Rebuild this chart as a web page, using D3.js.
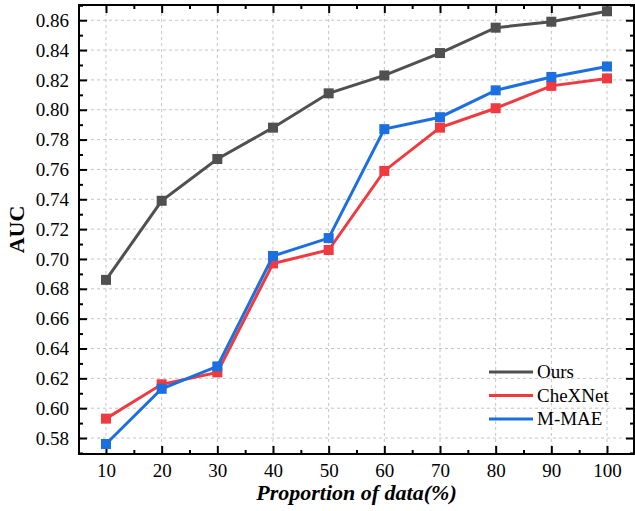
<!DOCTYPE html>
<html>
<head>
<meta charset="utf-8">
<script src="https://cdn.jsdelivr.net/npm/d3@7"></script>
<style>
  body { margin: 0; background: #fff; }
  text { font-family: "Liberation Serif", "Times New Roman", serif; }
</style>
</head>
<body>
<script>
// data
let proportions = [10, 20, 30, 40, 50, 60, 70, 80, 90, 100];
let ours = [0.686, 0.739, 0.767, 0.788, 0.811, 0.823, 0.838, 0.855, 0.859, 0.866];
let chexnet = [0.593, 0.616, 0.624, 0.697, 0.706, 0.759, 0.788, 0.801, 0.816, 0.821];
let mmae = [0.576, 0.613, 0.628, 0.702, 0.714, 0.787, 0.795, 0.813, 0.822, 0.829];
let seriesNames = ["Ours", "CheXNet", "M-MAE"];
let yTicks = [0.58, 0.60, 0.62, 0.64, 0.66, 0.68, 0.70, 0.72, 0.74, 0.76, 0.78, 0.80, 0.82, 0.84, 0.86];

let width = 635, height = 511;
let margin = { top: 5, right: 1, bottom: 57, left: 79 };
let serif = "Liberation Serif, Times New Roman, serif";

let svg = d3.select("body").append("svg")
    .attr("width", width)
    .attr("height", height);

let x = d3.scaleLinear().domain([5.15, 104.85]).range([margin.left, width - margin.right]);
let y = d3.scaleLinear().domain([0.5693, 0.8702]).range([height - margin.bottom, margin.top]);

let color = d3.scaleOrdinal(seriesNames, ["#505050", "#ef3b40", "#1c6fe0"]);
let series = [
  { name: "Ours", values: ours },
  { name: "CheXNet", values: chexnet },
  { name: "M-MAE", values: mmae }
];

let x0 = margin.left, x1 = width - margin.right, y0 = height - margin.bottom, y1 = margin.top;

// grid
let grid = svg.append("g").attr("stroke", "#c4c4c4").attr("stroke-dasharray", "3,3").attr("stroke-width", 1);
grid.selectAll(".vg").data(proportions).enter().append("line")
    .attr("x1", d => x(d)).attr("x2", d => x(d)).attr("y1", y0).attr("y2", y1);
grid.selectAll(".hg").data(yTicks).enter().append("line")
    .attr("x1", x0).attr("x2", x1).attr("y1", d => y(d)).attr("y2", d => y(d));

// axes with inward ticks
let minorX = d3.range(15, 101, 10);
let minorY = d3.range(0.57, 0.871, 0.02);

function clean(g) {
  g.select(".domain").remove();
  g.attr("font-family", serif).attr("font-size", 19);
}

svg.append("g").attr("transform", "translate(0," + y0 + ")")
    .call(d3.axisBottom(x).tickValues(proportions).tickSizeInner(-8).tickSizeOuter(0).tickPadding(10))
    .call(clean);
svg.append("g").attr("transform", "translate(0," + y0 + ")")
    .call(d3.axisBottom(x).tickValues(minorX).tickSizeInner(-4).tickSizeOuter(0).tickFormat(""))
    .call(clean);
svg.append("g").attr("transform", "translate(0," + y1 + ")")
    .call(d3.axisTop(x).tickValues(proportions).tickSizeInner(-8).tickSizeOuter(0).tickFormat(""))
    .call(clean);
svg.append("g").attr("transform", "translate(0," + y1 + ")")
    .call(d3.axisTop(x).tickValues(minorX).tickSizeInner(-4).tickSizeOuter(0).tickFormat(""))
    .call(clean);

svg.append("g").attr("transform", "translate(" + x0 + ",0)")
    .call(d3.axisLeft(y).tickValues(yTicks).tickSizeInner(-8).tickSizeOuter(0).tickPadding(10).tickFormat(d3.format(".2f")))
    .call(clean);
svg.append("g").attr("transform", "translate(" + x0 + ",0)")
    .call(d3.axisLeft(y).tickValues(minorY).tickSizeInner(-4).tickSizeOuter(0).tickFormat(""))
    .call(clean);
svg.append("g").attr("transform", "translate(" + x1 + ",0)")
    .call(d3.axisRight(y).tickValues(yTicks).tickSizeInner(-8).tickSizeOuter(0).tickFormat(""))
    .call(clean);
svg.append("g").attr("transform", "translate(" + x1 + ",0)")
    .call(d3.axisRight(y).tickValues(minorY).tickSizeInner(-4).tickSizeOuter(0).tickFormat(""))
    .call(clean);

svg.selectAll(".tick line").attr("stroke", "#000").attr("stroke-width", 2);
svg.selectAll(".tick text").attr("fill", "#000");

// frame
svg.append("rect")
    .attr("x", x0).attr("y", y1)
    .attr("width", x1 - x0).attr("height", y0 - y1)
    .attr("fill", "none").attr("stroke", "#000").attr("stroke-width", 2);

// lines and markers
let line = d3.line()
    .x((d, i) => x(proportions[i]))
    .y(d => y(d));

let sg = svg.selectAll(".series")
    .data(series)
    .enter().append("g")
    .attr("class", "series");

sg.append("path")
    .attr("d", d => line(d.values))
    .attr("fill", "none")
    .attr("stroke", d => color(d.name))
    .attr("stroke-width", 3);

sg.each(function (s) {
  d3.select(this).selectAll("rect")
    .data(s.values)
    .enter().append("rect")
    .attr("x", (d, i) => x(proportions[i]) - 5)
    .attr("y", d => y(d) - 5)
    .attr("width", 10)
    .attr("height", 10)
    .attr("fill", color(s.name));
});

// legend
let legend = svg.append("g").attr("font-family", serif).attr("font-size", 19);
let lg = legend.selectAll("g")
    .data(seriesNames)
    .enter().append("g")
    .attr("transform", (d, i) => "translate(489," + (372 + i * 23.5) + ")");
lg.append("line")
    .attr("x1", 0).attr("x2", 44)
    .attr("stroke", d => color(d))
    .attr("stroke-width", 3);
lg.append("text")
    .attr("x", 48)
    .attr("dy", "0.33em")
    .text(d => d);

// axis titles
svg.append("text")
    .attr("x", (x0 + x1) / 2)
    .attr("y", 500)
    .attr("text-anchor", "middle")
    .attr("font-family", serif)
    .attr("font-size", 22)
    .attr("font-weight", "bold")
    .attr("font-style", "italic")
    .text("Proportion of data(%)");

svg.append("text")
    .attr("transform", "translate(24," + ((y0 + y1) / 2) + ") rotate(-90)")
    .attr("text-anchor", "middle")
    .attr("font-family", serif)
    .attr("font-size", 22)
    .attr("font-weight", "bold")
    .text("AUC");
</script>
</body>
</html>
